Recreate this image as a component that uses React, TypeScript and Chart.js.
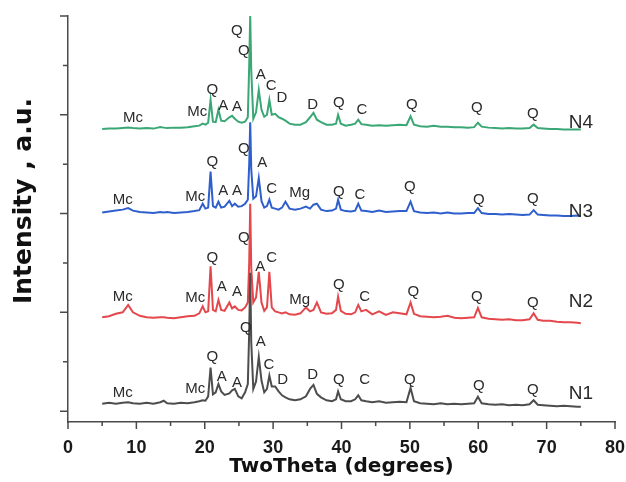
import React, { useEffect, useRef } from "react";
import { Chart, registerables } from "chart.js";

Chart.register(...registerables);

// 2θ positions (degrees), shared by all patterns
const twoTheta = [
  5, 6, 7, 8, 8.8, 9.5, 10.5, 11.5, 12.5, 13.5,
  14, 14.5, 15.5, 16.5, 17.5, 18.5, 19.2, 19.7, 20.1, 20.5,
  20.85, 21.2, 21.6, 22.0, 22.4, 22.9, 23.6, 24.0, 24.4, 24.9,
  25.4, 25.9, 26.3, 26.5, 26.65, 26.8, 27.1, 27.5, 27.9, 28.3,
  28.7, 29.1, 29.45, 29.8, 30.3, 30.8, 31.3, 31.8, 32.4, 33.2,
  34.0, 34.8, 35.4, 35.9, 36.4, 37.0, 37.8, 38.6, 39.2, 39.5,
  39.9, 40.6, 41.4, 42.0, 42.45, 42.9, 43.6, 44.5, 45.5, 46.5,
  47.5, 48.5, 49.5, 50.1, 50.6, 51.5, 52.5, 53.5, 54.5, 55.5,
  56.5, 57.5, 58.5, 59.4, 59.95, 60.5, 61.5, 62.5, 63.5, 64.5,
  65.5, 66.5, 67.5, 68.1, 68.7, 69.5, 70.5, 71.5, 72.5, 73.5,
  74.5, 75,
];

// Intensities (a.u., stacked offsets as drawn)
const n1 = [
  0.15, 0.17, 0.15, 0.17, 0.18, 0.16, 0.15, 0.17, 0.15, 0.18,
  0.21, 0.16, 0.15, 0.17, 0.16, 0.18, 0.2, 0.22, 0.21, 0.3,
  0.88, 0.34, 0.38, 0.55, 0.4, 0.33, 0.36, 0.42, 0.45, 0.3,
  0.26, 0.38, 0.55, 1.6, 2.8, 1.4, 0.45, 0.6, 1.1, 0.62,
  0.38, 0.45, 0.72, 0.5, 0.5, 0.4, 0.32, 0.28, 0.24, 0.22,
  0.24, 0.3, 0.45, 0.53, 0.35, 0.28, 0.22, 0.2, 0.24, 0.4,
  0.24, 0.2, 0.2, 0.24, 0.32, 0.22, 0.2, 0.18, 0.2, 0.17,
  0.18, 0.19, 0.18, 0.47, 0.2, 0.16, 0.15, 0.14, 0.16, 0.14,
  0.15, 0.14, 0.15, 0.16, 0.29, 0.16, 0.14, 0.13, 0.14, 0.12,
  0.13, 0.12, 0.14, 0.22, 0.13, 0.12, 0.11, 0.1, 0.11, 0.1,
  0.09, 0.09,
];
const n2 = [
  1.9, 1.92, 1.97, 2.0, 2.15, 2.0, 1.93, 1.9, 1.89, 1.9,
  1.9, 1.89, 1.88, 1.9, 1.92, 1.93, 1.98, 2.12, 2.0, 2.02,
  2.93, 2.05, 2.02, 2.25, 2.05, 2.03, 2.2, 2.08, 2.12, 2.05,
  2.04, 2.1, 2.2, 3.0, 4.2, 2.9, 2.2, 2.3, 2.82, 2.2,
  2.03, 2.1, 2.82, 2.1, 2.02, 2.0, 1.98, 2.0, 1.96, 1.95,
  1.98, 2.1, 2.02, 2.05, 2.2, 2.0, 1.97, 1.98, 2.05, 2.32,
  2.03, 1.97, 1.96, 2.0, 2.15, 2.02, 2.05, 1.96, 2.02, 1.95,
  2.0, 1.98, 1.96, 2.2, 1.97, 1.92, 1.91, 1.9, 1.91, 1.93,
  1.89, 1.88, 1.89, 1.9, 2.09, 1.9, 1.87, 1.86, 1.85, 1.86,
  1.84, 1.84, 1.86, 1.98, 1.85, 1.83, 1.83, 1.81, 1.8, 1.8,
  1.79, 1.78,
];
const n3 = [
  4.02, 4.04, 4.06, 4.08, 4.11, 4.06, 4.03, 4.02, 4.01, 4.03,
  4.02, 4.03, 4.01, 4.02, 4.03, 4.05, 4.07, 4.2, 4.1, 4.12,
  4.85, 4.15, 4.12, 4.24, 4.12, 4.14, 4.26, 4.15, 4.2, 4.14,
  4.15, 4.2, 4.28, 5.0, 5.85, 4.9, 4.3, 4.35, 4.72, 4.25,
  4.12, 4.15, 4.28, 4.12, 4.1, 4.08, 4.12, 4.24, 4.1, 4.08,
  4.1, 4.14, 4.1, 4.18, 4.2, 4.08, 4.05, 4.06, 4.1, 4.28,
  4.08, 4.05, 4.04, 4.06, 4.2, 4.06, 4.05, 4.03, 4.06, 4.03,
  4.04, 4.05, 4.05, 4.24, 4.05, 4.02, 4.01, 4.02, 4.0, 4.02,
  4.0, 4.0, 4.01, 4.01, 4.11, 4.01, 3.99, 3.99, 3.98, 3.99,
  3.98, 3.97, 3.98, 4.07, 3.98, 3.97, 3.96, 3.96, 3.95, 3.95,
  3.96, 3.95,
];
const n4 = [
  5.71, 5.72, 5.72, 5.73, 5.74, 5.73, 5.72, 5.73, 5.72, 5.75,
  5.74, 5.73, 5.74, 5.74, 5.75, 5.77, 5.78, 5.82, 5.8, 5.84,
  6.3, 5.86, 5.85, 6.1, 5.88, 5.87, 5.95, 5.98, 5.92, 5.86,
  5.84, 5.86, 5.95, 7.0, 8.0, 6.9, 5.92, 6.05, 6.5, 6.1,
  5.96, 6.0, 6.3, 6.0, 6.02, 5.95, 5.92, 5.88, 5.82, 5.8,
  5.8, 5.85, 5.95, 6.04, 5.9, 5.85, 5.8, 5.8, 5.82, 6.0,
  5.82, 5.78, 5.8, 5.82, 5.9, 5.81, 5.8, 5.78, 5.79, 5.78,
  5.79, 5.8, 5.79, 5.97, 5.8, 5.77, 5.76, 5.78, 5.76, 5.76,
  5.75, 5.75, 5.74, 5.75, 5.84, 5.76, 5.74, 5.73, 5.72, 5.73,
  5.72, 5.72, 5.73, 5.8, 5.73, 5.72, 5.71, 5.71, 5.7, 5.7,
  5.7, 5.7,
];

const seriesNames = ["N1", "N2", "N3", "N4"];
const seriesValues = [n1, n2, n3, n4];
const seriesColors = ["#4d4d4d", "#e4474c", "#2f5fcc", "#3aa775"];

// Phase labels: [text, 2θ, intensity]
const phaseN1: [string, number, number][] = [
  ["Mc", 8.0, 0.38], ["Mc", 18.6, 0.45], ["Q", 21.1, 1.09], ["A", 22.5, 0.69],
  ["A", 24.7, 0.57], ["Q", 26.0, 1.68], ["A", 28.2, 1.4], ["C", 29.4, 0.93],
  ["D", 31.4, 0.63], ["D", 35.8, 0.73], ["Q", 39.6, 0.63], ["C", 43.4, 0.63],
  ["Q", 50.0, 0.63], ["Q", 60.1, 0.51], ["Q", 68.0, 0.43],
];
const phaseN2: [string, number, number][] = [
  ["Mc", 8.0, 2.31], ["Mc", 18.6, 2.29], ["Q", 21.1, 3.1], ["A", 22.5, 2.51],
  ["A", 24.7, 2.41], ["Q", 25.7, 3.5], ["A", 28.1, 2.92], ["C", 29.8, 3.1],
  ["Mg", 33.9, 2.25], ["Q", 39.6, 2.55], ["C", 43.4, 2.31], ["Q", 50.5, 2.41],
  ["Q", 59.8, 2.31], ["Q", 68.0, 2.19],
];
const phaseN3: [string, number, number][] = [
  ["Mc", 8.0, 4.27], ["Mc", 18.6, 4.33], ["Q", 21.1, 5.04], ["A", 22.7, 4.46],
  ["A", 24.7, 4.46], ["Q", 25.7, 5.31], ["A", 28.4, 5.02], ["C", 29.8, 4.5],
  ["Mg", 33.9, 4.42], ["Q", 39.6, 4.44], ["C", 42.7, 4.37], ["Q", 50.0, 4.54],
  ["Q", 60.1, 4.27], ["Q", 68.0, 4.29],
];
const phaseN4: [string, number, number][] = [
  ["Mc", 9.5, 5.93], ["Mc", 18.9, 6.06], ["Q", 21.1, 6.5], ["A", 22.7, 6.18],
  ["A", 24.7, 6.16], ["Q", 24.7, 7.7], ["Q", 25.7, 7.29], ["A", 28.2, 6.81],
  ["C", 29.7, 6.58], ["D", 31.3, 6.35], ["D", 35.8, 6.21], ["Q", 39.6, 6.24],
  ["C", 43.0, 6.1], ["Q", 50.3, 6.2], ["Q", 59.8, 6.14], ["Q", 68.0, 6.01],
];
// Sample name labels: [text, 2θ, intensity]
const sampleLabels: [string, number, number][] = [
  ["N1", 75.0, 0.36], ["N2", 75.0, 2.21], ["N3", 75.0, 4.03], ["N4", 75.0, 5.83],
];

const xMajorTicks = [0, 10, 20, 30, 40, 50, 60, 70, 80];
const xMinorTicks = [5, 15, 25, 35, 45, 55, 65, 75];
const yMajorTicks = [0, 2, 4, 6, 8];
const yMinorTicks = [1, 3, 5, 7];

const xTitle = "TwoTheta (degrees)";
const yTitle = "Intensity , a.u.";

const AXIS_COLOR = "#4a4a4a";
const TEXT_COLOR = "#2a2a2a";

const overlayPlugin = {
  id: "overlay",
  afterDraw(chart: any) {
    const ctx = chart.ctx as CanvasRenderingContext2D;
    const xs = chart.scales.x;
    const ys = chart.scales.y;
    const ca = chart.chartArea;
    ctx.save();
    ctx.strokeStyle = AXIS_COLOR;
    ctx.lineWidth = 1.5;
    ctx.beginPath();
    for (const v of xMajorTicks) {
      const px = xs.getPixelForValue(v);
      ctx.moveTo(px, ca.bottom);
      ctx.lineTo(px, ca.bottom + 7);
    }
    for (const v of xMinorTicks) {
      const px = xs.getPixelForValue(v);
      ctx.moveTo(px, ca.bottom);
      ctx.lineTo(px, ca.bottom + 4);
    }
    for (const v of yMajorTicks) {
      const py = ys.getPixelForValue(v);
      ctx.moveTo(ca.left, py);
      ctx.lineTo(ca.left - 8, py);
    }
    for (const v of yMinorTicks) {
      const py = ys.getPixelForValue(v);
      ctx.moveTo(ca.left, py);
      ctx.lineTo(ca.left - 5, py);
    }
    ctx.stroke();

    ctx.fillStyle = TEXT_COLOR;
    ctx.textAlign = "center";
    ctx.textBaseline = "middle";
    ctx.font = "15px 'Liberation Sans', Arial, sans-serif";
    for (const group of [phaseN1, phaseN2, phaseN3, phaseN4]) {
      for (const [t, x, y] of group) {
        ctx.fillText(t, xs.getPixelForValue(x), ys.getPixelForValue(y));
      }
    }
    ctx.font = "19px 'Liberation Sans', Arial, sans-serif";
    for (const [t, x, y] of sampleLabels) {
      ctx.fillText(t, xs.getPixelForValue(x), ys.getPixelForValue(y));
    }

    ctx.fillStyle = "#111";
    ctx.font = "bold 20px 'DejaVu Sans', sans-serif";
    ctx.fillText(xTitle, (ca.left + ca.right) / 2, ca.bottom + 45);

    ctx.save();
    ctx.translate(ca.left - 44, (ca.top + ca.bottom) / 2 - 18);
    ctx.rotate(-Math.PI / 2);
    ctx.font = "bold 25px 'DejaVu Sans', sans-serif";
    ctx.fillText(yTitle, 0, 0);
    ctx.restore();

    ctx.restore();
  },
};

export default function App() {
  const canvasRef = useRef<HTMLCanvasElement | null>(null);

  useEffect(() => {
    if (!canvasRef.current) return;
    const datasets = seriesNames.map((name, si) => ({
      label: name,
      data: twoTheta.map((t, i) => ({ x: t, y: seriesValues[si][i] })),
      borderColor: seriesColors[si],
      backgroundColor: seriesColors[si],
      borderWidth: 2,
      pointRadius: 0,
      tension: 0,
      fill: false,
    }));
    const chart = new Chart(canvasRef.current, {
      type: "line",
      data: { datasets },
      options: {
        animation: false,
        responsive: true,
        maintainAspectRatio: false,
        layout: { padding: { left: 0, right: 11, top: 16, bottom: 0 } },
        plugins: { legend: { display: false }, tooltip: { enabled: false } },
        scales: {
          x: {
            type: "linear",
            min: 0,
            max: 80,
            grid: { display: false, drawTicks: false },
            border: { display: true, color: AXIS_COLOR, width: 1.5 },
            ticks: {
              stepSize: 10,
              padding: 15,
              color: "#1a1a1a",
              font: { family: "'Liberation Sans', Arial, sans-serif", size: 18, weight: "bold" },
              maxRotation: 0,
            },
            afterFit: (s: any) => {
              s.height = 60;
              s.paddingLeft = 0;
              s.paddingRight = 0;
            },
          },
          y: {
            type: "linear",
            min: -0.22,
            max: 8,
            grid: { display: false, drawTicks: false },
            border: { display: true, color: AXIS_COLOR, width: 1.5 },
            ticks: { display: false },
            afterFit: (s: any) => {
              s.width = 68;
              s.paddingTop = 0;
              s.paddingBottom = 0;
            },
          },
        },
      } as any,
      plugins: [overlayPlugin],
    });
    return () => chart.destroy();
  }, []);

  return (
    <div style={{ position: "fixed", left: 0, top: 0, width: 626, height: 482 }}>
      <canvas ref={canvasRef} />
    </div>
  );
}
